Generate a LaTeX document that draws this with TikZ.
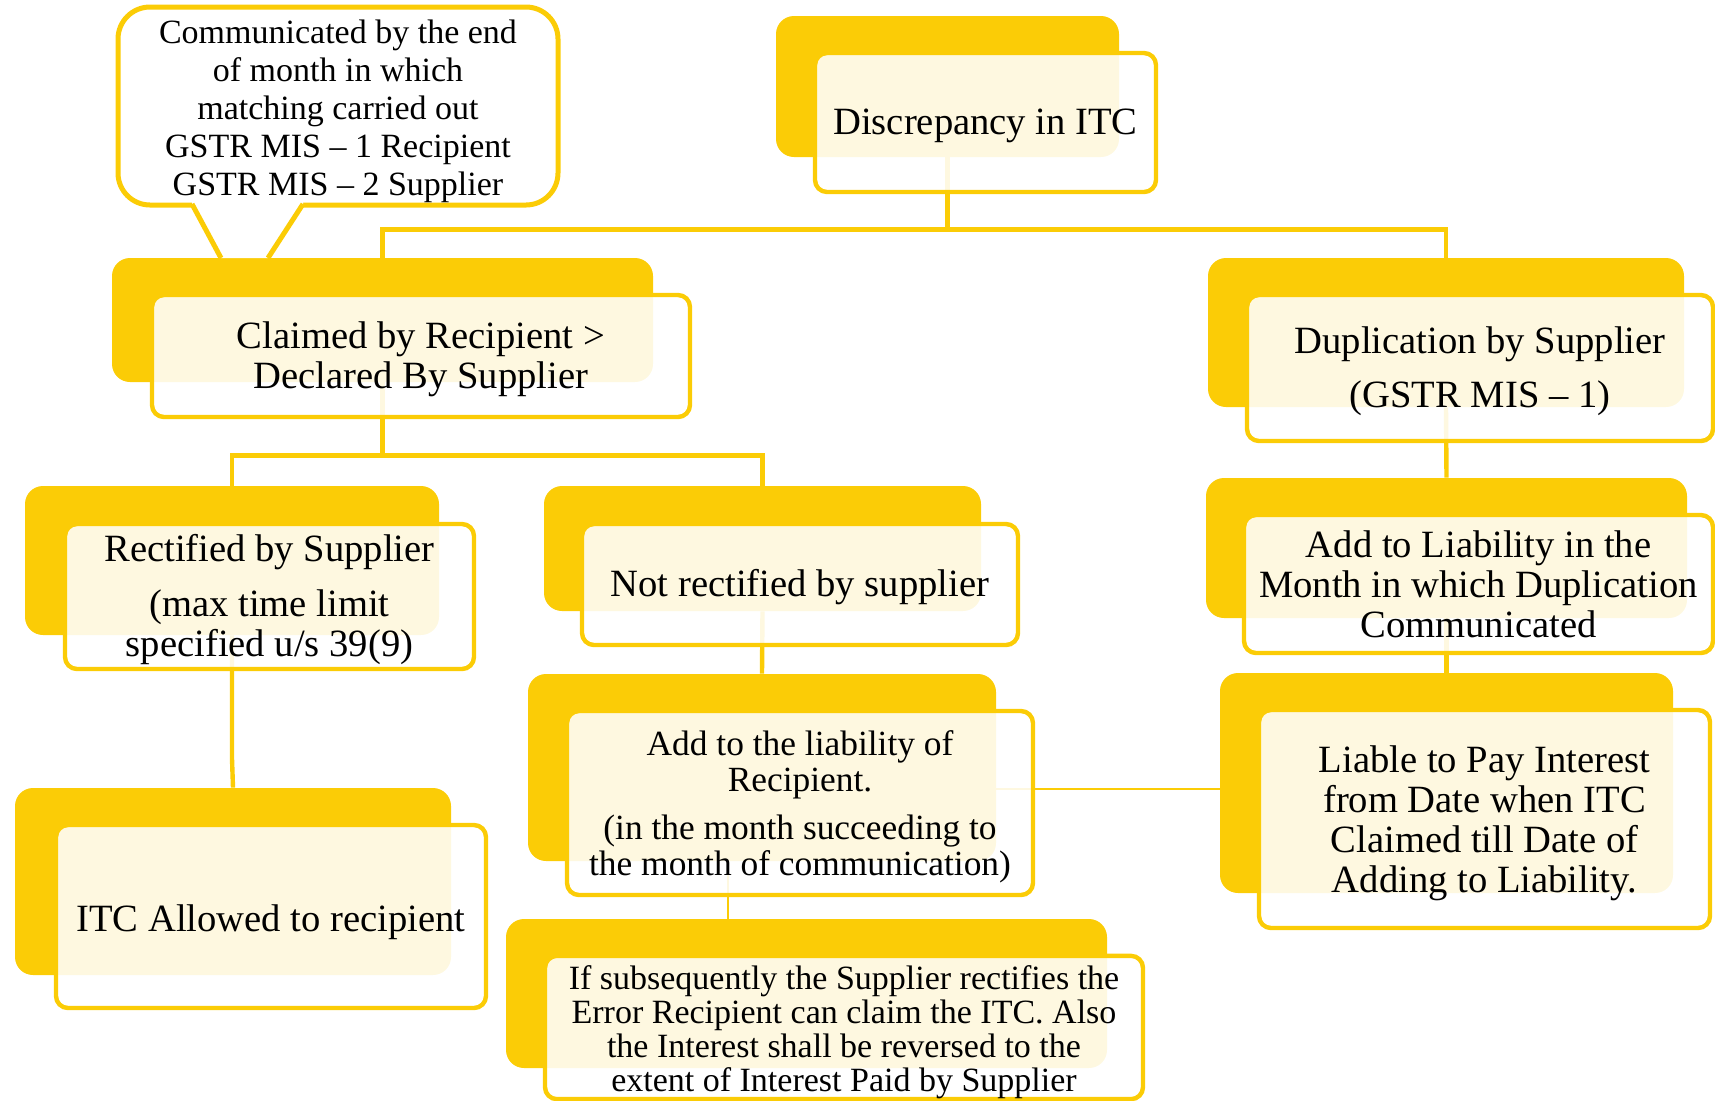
\documentclass[tikz,border=0pt]{standalone}
\usepackage{fontspec}
\setmainfont{Liberation Serif}
\usepackage{tikz}
\usetikzlibrary{calc,positioning}
\definecolor{gold}{RGB}{251,204,6}
\newcommand{\boxfont}{\fontsize{19.3}{20}\selectfont}
\newcommand{\lift}[1]{\rule{0pt}{#1}}
\tikzset{
  backbox/.style={fill=gold, rounded corners=9pt, inner sep=0pt},
  frontbox/.style={draw=gold, line width=2.2pt, fill=white, fill opacity=0.88, text opacity=1,
    rounded corners=6pt, inner sep=0pt, align=center, font=\boxfont},
  wire/.style={draw=gold, line width=2.2pt},
  thinwire/.style={draw=gold, line width=1.1pt},
  bubble/.style={draw=gold, line width=2.5pt, fill=white, rounded corners=16pt, inner sep=0pt,
    align=center, font=\fontsize{17}{19}\selectfont}
}

\begin{document}
\begin{tikzpicture}[x=0.5pt,y=-0.5pt]
  \useasboundingbox (0,0) rectangle (1715,1100);
  \clip (0,0) rectangle (1715,1100);
  % back plates
  \node[backbox, minimum width=171.5pt, minimum height=70.5pt] (topb) at (947.5,86.5) {};
  \node[backbox, minimum width=270.5pt, minimum height=62pt] (claimb) at (382.5,320) {};
  \node[backbox, minimum width=238pt, minimum height=74.5pt] (dupb) at (1446,332.5) {};
  \node[backbox, minimum width=240.5pt, minimum height=70pt] (addliabb) at (1446.5,548) {};
  \node[backbox, minimum width=226.5pt, minimum height=110pt] (liableb) at (1446.5,783) {};
  \node[backbox, minimum width=207pt, minimum height=74.5pt] (rectb) at (232,560.5) {};
  \node[backbox, minimum width=218.5pt, minimum height=62.5pt] (notrectb) at (762.5,548.5) {};
  \node[backbox, minimum width=234pt, minimum height=93.5pt] (addrecb) at (762,767.5) {};
  \node[backbox, minimum width=300.5pt, minimum height=74.5pt] (ifsubb) at (806.5,993.5) {};
  \node[backbox, minimum width=218pt, minimum height=93.5pt] (itcb) at (233,881.5) {};

  % connectors
  \draw[wire] (topb.south) -- ++(0,72) -| (claimb.north);
  \draw[wire] (topb.south) -- ++(0,72) -| (dupb.north);
  \draw[wire] (claimb.south) -- ++(0,73) -| (rectb.north);
  \draw[wire] (claimb.south) -- ++(0,73) -| (notrectb.north);
  \draw[wire] (rectb.south) -- ++(0,123) -- ([xshift=0.5pt]rectb.south |- itcb.north);
  \draw[wire] (notrectb.south) -- (addrecb.north);
  \draw[thinwire] ([xshift=-17pt]addrecb.south) -- ([xshift=-17pt]addrecb.south |- ifsubb.north);
  \draw[wire] (dupb.south) -- (addliabb.north);
  \draw[wire] (addliabb.south) -- (liableb.north);
  \draw[thinwire] ([yshift=-3pt]liableb.west) -- ([yshift=-3pt]liableb.west -| addrecb.east);

  % callout
  \node[bubble, minimum width=220pt, minimum height=99pt] (note) at (338,106)
    {\lift{17pt}Communicated by the end\\of month in which\\matching carried out\\GSTR MIS – 1 Recipient\\GSTR MIS – 2 Supplier};
  \fill[white] (192,199) -- (192,205) -- (221,258) -- (268,258) -- (303,205) -- (303,199) -- cycle;
  \draw[gold, line width=2.5pt, line join=round] (192,204) -- (221,258);
  \draw[gold, line width=2.5pt, line join=round] (303,204) -- (268,258);

  % front plates
  \node[frontbox, minimum width=170.5pt, minimum height=69.5pt] (topf) at (985.5,122.5)
    {\lift{16.5pt}Discrepancy in ITC};
  \node[frontbox, minimum width=269pt, minimum height=61pt] (claimf) at (421,356)
    {\lift{16.5pt}Claimed by Recipient >\\Declared By Supplier};
  \node[frontbox, minimum width=233pt, minimum height=73pt] (dupf) at (1480,368)
    {\lift{17pt}Duplication by Supplier\\[7pt](GSTR MIS – 1)};
  \node[frontbox, minimum width=234.5pt, minimum height=69pt] (addliabf) at (1478.5,584)
    {Add to Liability in the\\Month in which Duplication\\Communicated};
  \node[frontbox, minimum width=225.5pt, minimum height=109pt] (liablef) at (1484.5,819)
    {\lift{17.6pt}Liable to Pay Interest\\from Date when ITC\\Claimed till Date of\\Adding to Liability.};
  \node[frontbox, minimum width=204.5pt, minimum height=72.5pt] (rectf) at (269.5,596.5)
    {\lift{16.5pt}Rectified by Supplier\\[7.5pt](max time limit\\specified u/s 39(9)};
  \node[frontbox, minimum width=218pt, minimum height=60.5pt] (notrectf) at (800,584.5)
    {\lift{16.5pt}Not rectified by supplier};
  \node[frontbox, font=\fontsize{17.7}{18}\selectfont, minimum width=233pt, minimum height=92pt] (addrecf) at (800,803)
    {\lift{16.5pt}Add to the liability of\\Recipient.\\[6pt](in the month succeeding to\\the month of communication)};
  \node[frontbox, font=\fontsize{17}{17}\selectfont, minimum width=299pt, minimum height=70.5pt] (ifsubf) at (844,1027.5)
    {\lift{17pt}If subsequently the Supplier rectifies the\\Error Recipient can claim the ITC. Also\\the Interest shall be reversed to the\\extent of Interest Paid by Supplier};
  \node[frontbox, minimum width=215pt, minimum height=91.5pt] (itcf) at (271,916.5)
    {\lift{18.6pt}ITC Allowed to recipient};
\end{tikzpicture}
\end{document}
